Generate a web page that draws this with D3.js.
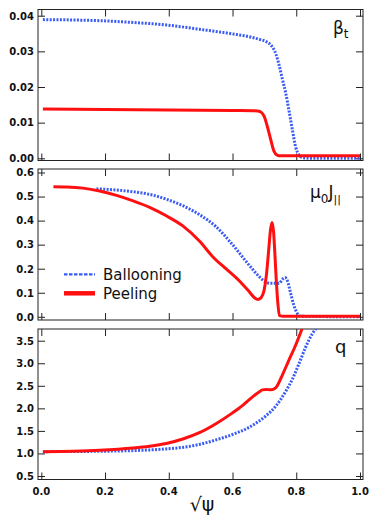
<!DOCTYPE html>
<html><head><meta charset="utf-8">
<script src="https://cdn.jsdelivr.net/npm/d3@7"></script>
<style>html,body{margin:0;padding:0;background:#fff;}</style>
</head><body>
<svg id="c" width="370" height="517"></svg>
<script>
// ---------- data ----------
const xTicks = [0, 0.2, 0.4, 0.6, 0.8, 1.0];
const betaTicks = [0, 0.01, 0.02, 0.03, 0.04];
const jTicks = [0, 0.1, 0.2, 0.3, 0.4, 0.5, 0.6];
const qTicks = [0.5, 1.0, 1.5, 2.0, 2.5, 3.0, 3.5];

const betaBallX = [0.005,0.1,0.183,0.288,0.392,0.496,0.6,0.652,0.683,0.704,0.72,0.736,0.746,0.757,0.767,0.777,0.788,0.798,0.808,0.819,0.85,1.0];
const betaBallY = [0.0389,0.0388,0.0386,0.0381,0.0374,0.0362,0.0349,0.0341,0.0334,0.0328,0.0318,0.0293,0.0262,0.022,0.0183,0.0135,0.0079,0.0032,0.001,0.0002,0,0];
const betaPeelX = [0.005,0.3,0.6,0.678,0.689,0.699,0.709,0.72,0.73,0.74,0.75,1.0];
const betaPeelY = [0.0138,0.0136,0.0134,0.0133,0.013,0.0118,0.009,0.0052,0.002,0.0009,0.0007,0.0007];

const jBallX = [0.173,0.236,0.288,0.34,0.392,0.444,0.496,0.548,0.6,0.652,0.683,0.704,0.72,0.746,0.758,0.765,0.772,0.782,0.792,0.803,0.815,1.0];
const jBallY = [0.532,0.527,0.52,0.509,0.489,0.462,0.425,0.375,0.3,0.215,0.168,0.145,0.139,0.139,0.158,0.163,0.15,0.1,0.05,0.015,0.002,0];
const jPeelX = [0.038,0.08,0.131,0.183,0.236,0.288,0.34,0.392,0.444,0.496,0.538,0.579,0.621,0.652,0.67,0.68,0.69,0.699,0.706,0.713,0.719,0.724,0.729,0.733,0.737,0.742,0.747,0.76,1.0];
const jPeelY = [0.541,0.54,0.535,0.523,0.505,0.482,0.455,0.42,0.378,0.315,0.25,0.2,0.15,0.105,0.078,0.072,0.08,0.11,0.17,0.27,0.36,0.392,0.35,0.26,0.16,0.06,0.005,0.002,0.002];

const qBallX = [0.005,0.2,0.392,0.496,0.548,0.6,0.652,0.704,0.736,0.767,0.788,0.808,0.829,0.85,0.865];
const qBallY = [1.04,1.05,1.1,1.2,1.3,1.42,1.58,1.83,2.05,2.38,2.65,2.98,3.35,3.65,3.8];
const qPeelX = [0.005,0.1,0.183,0.288,0.34,0.392,0.444,0.496,0.548,0.6,0.631,0.662,0.683,0.694,0.705,0.72,0.736,0.757,0.777,0.798,0.82];
const qPeelY = [1.04,1.05,1.07,1.12,1.16,1.22,1.32,1.46,1.66,1.9,2.06,2.25,2.36,2.41,2.42,2.41,2.46,2.75,3.07,3.4,3.8];

const legendLabels = ["Ballooning", "Peeling"];
const xTitle = "√ψ";

// ---------- styling ----------
const BLUE = "#3b5cf2", RED = "#ff1010";
const svg = d3.select("#c");
const fx0 = 38, fx1 = 363;
const x = d3.scaleLinear().domain([0, 1]).range([41.3, 360]);

const panels = [
  {top: 9.5, bot: 160.5, dom: [0, 0.04], rng: [158.3, 15.7], ticks: betaTicks, fmt: d3.format(".2f"),
   series: [[betaBallX, betaBallY, "ball"], [betaPeelX, betaPeelY, "peel"]]},
  {top: 169, bot: 320, dom: [0, 0.6], rng: [316.8, 172.5], ticks: jTicks, fmt: d3.format(".1f"),
   series: [[jBallX, jBallY, "ball"], [jPeelX, jPeelY, "peel"]]},
  {top: 329, bot: 479.5, dom: [0.5, 3.5], rng: [476, 340.7], ticks: qTicks, fmt: d3.format(".1f"),
   series: [[qBallX, qBallY, "ball"], [qPeelX, qPeelY, "peel"]]}
];

panels.forEach((p, i) => {
  const y = d3.scaleLinear().domain(p.dom).range(p.rng);
  const g = svg.append("g");
  const cid = "clip" + i;
  svg.append("clipPath").attr("id", cid).append("rect")
    .attr("x", fx0).attr("y", p.top).attr("width", fx1 - fx0).attr("height", p.bot - p.top);

  const left = d3.axisRight(y).tickValues(p.ticks).tickSize(7).tickFormat("");
  g.append("g").attr("transform", `translate(${fx0},0)`).call(left);
  const right = d3.axisLeft(y).tickValues(p.ticks).tickSize(7).tickFormat("");
  g.append("g").attr("transform", `translate(${fx1},0)`).call(right);
  const top = d3.axisBottom(x).tickValues(xTicks).tickSize(7).tickFormat("");
  g.append("g").attr("transform", `translate(0,${p.top})`).call(top);
  const bot = d3.axisTop(x).tickValues(xTicks).tickSize(7).tickFormat("");
  g.append("g").attr("transform", `translate(0,${p.bot})`).call(bot);
  g.selectAll(".domain").remove();
  g.selectAll(".tick line").attr("stroke", "#222").attr("stroke-width", 1);
  g.append("rect").attr("x", fx0).attr("y", p.top).attr("width", fx1 - fx0).attr("height", p.bot - p.top)
    .attr("fill", "none").attr("stroke", "#222").attr("stroke-width", 1);

  g.selectAll("text.yl").data(p.ticks).enter().append("text")
    .attr("x", 34).attr("y", d => y(d) + 3.8).attr("text-anchor", "end")
    .attr("font-family", "DejaVu Sans").attr("font-weight", "bold").attr("font-size", 10)
    .attr("fill", "#111").text(d => p.fmt(d));

  const line = d3.line().x(d => x(d[0])).y(d => y(d[1])).curve(d3.curveMonotoneX);
  p.series.forEach(([xs, ys, kind]) => {
    const pts = xs.map((v, k) => [v, ys[k]]);
    const path = svg.append("path").attr("d", line(pts)).attr("fill", "none")
      .attr("clip-path", `url(#${cid})`);
    if (kind === "ball") {
      path.attr("stroke", BLUE).attr("stroke-width", 3).attr("stroke-dasharray", "2,1.4");
    } else {
      path.attr("stroke", RED).attr("stroke-width", 3);
    }
  });
});

svg.selectAll("text.xl").data(xTicks).enter().append("text")
  .attr("x", d => x(d)).attr("y", 495).attr("text-anchor", "middle")
  .attr("font-family", "DejaVu Sans").attr("font-weight", "bold").attr("font-size", 10)
  .attr("fill", "#111").text(d3.format(".1f"));

svg.append("text").attr("x", 202).attr("y", 511).attr("text-anchor", "middle")
  .attr("font-family", "DejaVu Sans").attr("font-size", 19).attr("fill", "#111").text(xTitle);

const lab1 = svg.append("text").attr("x", 333).attr("y", 34).attr("font-family", "DejaVu Sans")
  .attr("font-size", 17).attr("fill", "#111");
lab1.append("tspan").text("β");
lab1.append("tspan").attr("font-size", 12).attr("dy", 4).text("t");

const lab2 = svg.append("text").attr("x", 310).attr("y", 198).attr("font-family", "DejaVu Sans")
  .attr("font-size", 17).attr("fill", "#111");
lab2.append("tspan").text("μ");
lab2.append("tspan").attr("font-size", 12).attr("dy", 5).text("0");
lab2.append("tspan").attr("dy", -5).text("J");
lab2.append("tspan").attr("font-size", 11).attr("dy", 5).text("||");

svg.append("text").attr("x", 335).attr("y", 353).attr("font-family", "DejaVu Sans")
  .attr("font-size", 18).attr("fill", "#111").text("q");

svg.append("line").attr("x1", 64).attr("x2", 95).attr("y1", 274.3).attr("y2", 274.3)
  .attr("stroke", BLUE).attr("stroke-width", 2.2).attr("stroke-dasharray", "3.5,1.5");
svg.append("line").attr("x1", 64).attr("x2", 95).attr("y1", 293.3).attr("y2", 293.3)
  .attr("stroke", RED).attr("stroke-width", 4.5);
svg.append("text").attr("x", 103).attr("y", 280).attr("font-family", "DejaVu Sans")
  .attr("font-size", 15).attr("fill", "#111").text(legendLabels[0]);
svg.append("text").attr("x", 103).attr("y", 299).attr("font-family", "DejaVu Sans")
  .attr("font-size", 15).attr("fill", "#111").text(legendLabels[1]);
</script>
</body></html>
